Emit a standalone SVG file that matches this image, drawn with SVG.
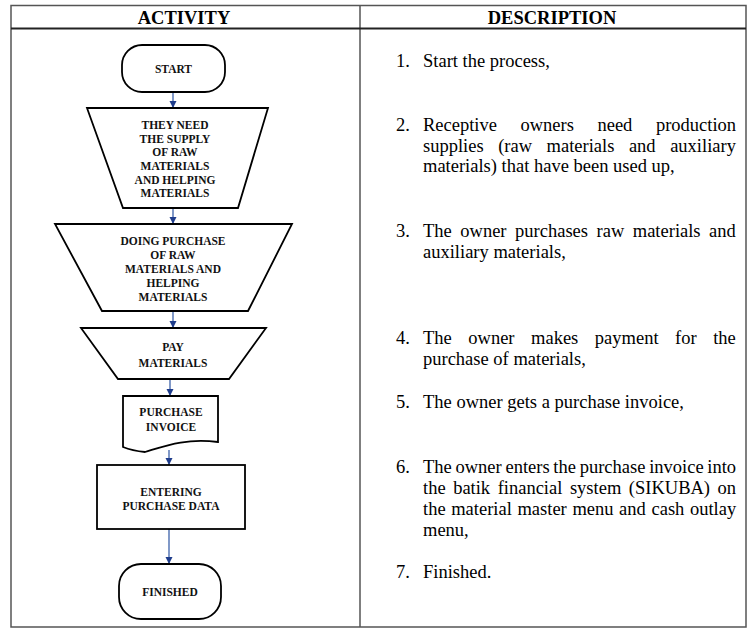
<svg xmlns="http://www.w3.org/2000/svg" width="749" height="629" viewBox="0 0 749 629">
<style>
.frame{fill:none;stroke:#555;stroke-width:1.5}
.hdr{font-family:"Liberation Serif","Times New Roman",serif;font-weight:bold;font-size:18.5px;text-anchor:middle;fill:#000}
.desc{font-family:"Liberation Serif","Times New Roman",serif;font-size:18.5px;fill:#000}
.shape{fill:#fff;stroke:#000;stroke-width:1.8}
.lbl{font-family:"Liberation Serif","Times New Roman",serif;font-weight:bold;font-size:11.5px;text-anchor:middle;fill:#111}
.conn{stroke:#3d62aa;stroke-width:1.3;fill:none;marker-end:url(#ah)}
</style>
<defs>
<marker id="ah" markerUnits="userSpaceOnUse" markerWidth="8" markerHeight="8" refX="7" refY="3.5" orient="auto">
<path d="M0,0 L7,3.5 L0,7 z" fill="#1f3d8c"/>
</marker>
</defs>
<rect width="749" height="629" fill="#fff"/>
<g id="table">
<rect class="frame" x="11" y="5.5" width="735" height="621.5"/>
<line x1="360" y1="5.5" x2="360" y2="627" stroke="#555" stroke-width="1.5"/>
<line x1="11" y1="28.5" x2="746" y2="28.5" stroke="#222" stroke-width="2"/>
<text class="hdr" x="184" y="24">ACTIVITY</text>
<text class="hdr" x="552" y="24">DESCRIPTION</text>
</g>
<g id="connectors">
<line class="conn" x1="173" y1="92" x2="173" y2="108"/>
<line class="conn" x1="173" y1="208" x2="173" y2="224"/>
<line class="conn" x1="173" y1="311" x2="173" y2="328"/>
<line class="conn" x1="170" y1="379" x2="170" y2="396"/>
<line class="conn" x1="169" y1="450" x2="169" y2="465"/>
<line class="conn" x1="169" y1="529" x2="169" y2="564"/>
</g>
<g id="start">
<rect class="shape" x="122" y="45" width="103" height="47" rx="20" ry="20"/>
<text class="lbl" x="173.5" y="73">START</text>
</g>
<g id="need-supply">
<polygon class="shape" points="87,108 268,108 238,208 123,208"/>
<text class="lbl" x="175" y="129">THEY NEED</text>
<text class="lbl" x="175" y="142.5">THE SUPPLY</text>
<text class="lbl" x="175" y="156">OF RAW</text>
<text class="lbl" x="175" y="170">MATERIALS</text>
<text class="lbl" x="175" y="183.5">AND HELPING</text>
<text class="lbl" x="175" y="197">MATERIALS</text>
</g>
<g id="purchase">
<polygon class="shape" points="55,224 292,224 248,311 102,311"/>
<text class="lbl" x="173" y="245">DOING PURCHASE</text>
<text class="lbl" x="173" y="258.5">OF RAW</text>
<text class="lbl" x="173" y="272.5">MATERIALS AND</text>
<text class="lbl" x="173" y="286.5">HELPING</text>
<text class="lbl" x="173" y="301">MATERIALS</text>
</g>
<g id="pay">
<polygon class="shape" points="81,328 266,328 229,379 118,379"/>
<text class="lbl" x="173" y="351">PAY</text>
<text class="lbl" x="173" y="367">MATERIALS</text>
</g>
<g id="invoice">
<path class="shape" d="M123,396 L218,396 L218,442 C185,438 165,446 145,452 C135,451 128,449 123,447 Z"/>
<text class="lbl" x="171" y="416">PURCHASE</text>
<text class="lbl" x="171" y="431">INVOICE</text>
</g>
<g id="enter-data">
<rect class="shape" x="97" y="465" width="148" height="64"/>
<text class="lbl" x="171" y="496">ENTERING</text>
<text class="lbl" x="171" y="510">PURCHASE DATA</text>
</g>
<g id="finished">
<rect class="shape" x="119" y="564" width="102" height="55" rx="22" ry="22"/>
<text class="lbl" x="170" y="596">FINISHED</text>
</g>
<g id="description">
<text class="desc" x="396" y="67">1.</text>
<text class="desc" x="423" y="67">Start the process,</text>
<text class="desc" x="396" y="131">2.</text>
<text class="desc" x="423" y="131" word-spacing="18.9">Receptive owners need production</text>
<text class="desc" x="423" y="152" word-spacing="9.9">supplies (raw materials and auxiliary</text>
<text class="desc" x="423" y="172">materials) that have been used up,</text>
<text class="desc" x="396" y="237">3.</text>
<text class="desc" x="423" y="237" word-spacing="3.9">The owner purchases raw materials and</text>
<text class="desc" x="423" y="258">auxiliary materials,</text>
<text class="desc" x="396" y="344">4.</text>
<text class="desc" x="423" y="344" word-spacing="11.9">The owner makes payment for the</text>
<text class="desc" x="423" y="365">purchase of materials,</text>
<text class="desc" x="396" y="408">5.</text>
<text class="desc" x="423" y="408">The owner gets a purchase invoice,</text>
<text class="desc" x="396" y="473">6.</text>
<text class="desc" x="423" y="473" word-spacing="-0.9">The owner enters the purchase invoice into</text>
<text class="desc" x="423" y="494" word-spacing="2.9">the batik financial system (SIKUBA) on</text>
<text class="desc" x="423" y="515" word-spacing="1">the material master menu and cash outlay</text>
<text class="desc" x="423" y="536">menu,</text>
<text class="desc" x="396" y="578">7.</text>
<text class="desc" x="423" y="578">Finished.</text>
</g>
</svg>
